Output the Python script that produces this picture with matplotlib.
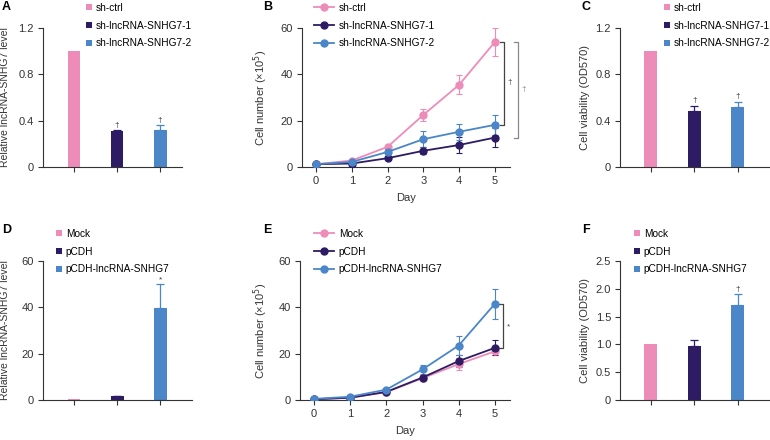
import matplotlib
matplotlib.use("Agg")
import matplotlib.pyplot as plt
import numpy as np

plt.rcParams['font.family'] = ['Liberation Sans', 'DejaVu Sans']
plt.rcParams['font.size'] = 8

PINK = '#ee8cb9'
NAVY = '#2d1b63'
BLUE = '#4a86c8'
AX_C = '#333333'

W, H = 770, 440

# ---- data ----
days = [0, 1, 2, 3, 4, 5]

sh_groups = ['sh-ctrl', 'sh-lncRNA-SNHG7-1', 'sh-lncRNA-SNHG7-2']
oe_groups = ['Mock', 'pCDH', 'pCDH-lncRNA-SNHG7']

a_vals = [1.0, 0.31, 0.32]
a_err = [0.0, 0.012, 0.04]

b_ctrl = [1.2, 2.8, 8.7, 22.5, 35.5, 54.0]
b_ctrl_err = [0.3, 0.6, 1.0, 2.6, 4.0, 6.0]
b_sh1 = [1.2, 1.5, 3.8, 7.0, 9.5, 12.7]
b_sh1_err = [0.3, 0.3, 0.7, 1.5, 3.5, 4.0]
b_sh2 = [1.2, 2.2, 6.5, 12.0, 15.2, 18.2]
b_sh2_err = [0.3, 0.4, 2.5, 3.5, 3.5, 4.2]

c_vals = [1.0, 0.48, 0.52]
c_err = [0.0, 0.05, 0.045]

d_vals = [0.6, 1.6, 39.5]
d_err = [0.0, 0.2, 10.5]

e_mock = [0.3, 1.0, 3.4, 9.4, 15.5, 21.0]
e_mock_err = [0.2, 0.3, 0.5, 1.0, 2.5, 1.6]
e_pcdh = [0.3, 1.0, 3.5, 9.7, 16.8, 22.5]
e_pcdh_err = [0.2, 0.3, 0.5, 1.0, 2.7, 3.2]
e_over = [0.5, 1.4, 4.5, 13.2, 23.5, 41.5]
e_over_err = [0.2, 0.3, 0.5, 2.0, 4.0, 6.5]

f_vals = [1.0, 0.98, 1.71]
f_err = [0.0, 0.1, 0.2]

colors = [PINK, NAVY, BLUE]


def px_axes(x0, x1, y0, y1):
    return fig.add_axes([x0 / W, 1 - y1 / H, (x1 - x0) / W, (y1 - y0) / H])


def style(ax):
    for s in ['top', 'right']:
        ax.spines[s].set_visible(False)
    for s in ['left', 'bottom']:
        ax.spines[s].set_color(AX_C)
        ax.spines[s].set_linewidth(0.8)
    ax.tick_params(colors=AX_C, length=3.5, width=0.8, labelsize=8, pad=3)


def ylabel(ax, text, xpx, size=8):
    ax.set_ylabel(text, fontsize=size, color=AX_C)
    bb = ax.get_position()
    ax.yaxis.set_label_coords(xpx / W, bb.y0 + bb.height / 2, transform=fig.transFigure)


def legend(ax, handles, labels, xpx, ypx, square=True):
    if square:
        kw = dict(handlelength=0.55, handleheight=0.55, handletextpad=0.4)
    else:
        kw = dict(handlelength=2.0, handletextpad=0.45)
    ax.legend(handles, labels, loc='upper left', frameon=False,
              bbox_to_anchor=(xpx / W, 1 - ypx / H), bbox_transform=fig.transFigure,
              borderpad=0, borderaxespad=0, labelspacing=0.75, fontsize=7.3, **kw)


def letter(txt, xpx, ypx):
    fig.text(xpx / W, 1 - ypx / H, txt, fontsize=9, fontweight='bold', va='center', ha='left')


def bar_panel(ax, vals, errs, ymax, yticks, yticklabels, xlim, marks, mark_off):
    x = np.arange(len(vals))
    bars = []
    for i in range(len(vals)):
        if errs[i] > 0:
            ax.errorbar(x[i], vals[i], yerr=[[0], [errs[i]]], fmt='none', ecolor=colors[i],
                        elinewidth=0.9, capsize=3, capthick=0.9, zorder=1)
        b = ax.bar(x[i], vals[i], width=0.3, color=colors[i], zorder=2)
        bars.append(b[0])
    for i, m in marks:
        ax.text(x[i], vals[i] + errs[i] + mark_off, m, ha='center', va='bottom', fontsize=6, color=AX_C)
    ax.set_xlim(*xlim)
    ax.set_ylim(0, ymax)
    ax.set_yticks(yticks)
    ax.set_yticklabels(yticklabels)
    ax.set_xticks(x)
    ax.set_xticklabels([])
    style(ax)
    return bars


def line_panel(ax, series, ymax):
    handles = []
    for (vals, errs), c in zip(series, colors):
        ax.errorbar(days, vals, yerr=errs, color=c, ecolor=c, elinewidth=0.8, capsize=2.5,
                    capthick=0.8, lw=1.3, marker='o', ms=5, zorder=3)
        h, = ax.plot([], [], color=c, lw=1.3, marker='o', ms=5)
        handles.append(h)
    ax.set_xlim(-0.39, 5.42)
    ax.set_ylim(0, ymax)
    ax.set_yticks([0, 20, 40, 60])
    ax.set_xticks(days)
    ax.set_xlabel('Day', fontsize=8, color=AX_C, labelpad=5)
    style(ax)
    return handles


def bracket(ax, x, y0, y1, color, text, tx, ty, dx=0.1):
    ax.plot([x - dx, x, x, x - dx], [y0, y0, y1, y1], color=color, lw=0.9, clip_on=False)
    ax.text(tx, ty, text, fontsize=6, color=color, ha='center', va='center', clip_on=False)


fig = plt.figure(figsize=(W / 100, H / 100), dpi=100)

# ---- A ----
axA = px_axes(43, 182, 28, 167)
hA = bar_panel(axA, a_vals, a_err, 1.2, [0, 0.4, 0.8, 1.2], ['0', '0.4', '0.8', '1.2'],
               (-0.72, 2.51), [(1, '†'), (2, '†')], 0.01)
ylabel(axA, 'Relative lncRNA-SNHG7 level', 10, size=7.5)
legend(axA, hA, sh_groups, 86, 3)
letter('A', 2, 7)

# ---- B ----
axB = px_axes(302, 510, 28, 167)
hB = line_panel(axB, [(b_ctrl, b_ctrl_err), (b_sh1, b_sh1_err), (b_sh2, b_sh2_err)], 60)
ylabel(axB, 'Cell number (×10$^5$)', 270)
legend(axB, hB, sh_groups, 314, 3, square=False)
bracket(axB, 5.25, b_ctrl[5], b_sh2[5], '#444444', '†', 5.40, 36.5)
bracket(axB, 5.64, b_ctrl[5], b_sh1[5], '#888888', '†', 5.80, 33.5)
letter('B', 263, 7)

# ---- C ----
axC = px_axes(620, 769, 28, 167)
hC = bar_panel(axC, c_vals, c_err, 1.2, [0, 0.4, 0.8, 1.2], ['0', '0.4', '0.8', '1.2'],
               (-0.71, 2.72), [(1, '†'), (2, '†')], 0.01)
ylabel(axC, 'Cell viability (OD570)', 590)
legend(axC, hC, sh_groups, 664, 3)
letter('C', 582, 7)

# ---- D ----
axD = px_axes(43, 192, 261, 400)
hD = bar_panel(axD, d_vals, d_err, 60, [0, 20, 40, 60], ['0', '20', '40', '60'],
               (-0.72, 2.74), [(2, '*')], 0.3)
ylabel(axD, 'Relative lncRNA-SNHG7 level', 10, size=7.5)
legend(axD, hD, oe_groups, 56, 229)
letter('D', 2, 230)

# ---- E ----
axE = px_axes(300, 510, 261, 400)
hE = line_panel(axE, [(e_mock, e_mock_err), (e_pcdh, e_pcdh_err), (e_over, e_over_err)], 60)
ylabel(axE, 'Cell number (×10$^5$)', 270)
legend(axE, hE, oe_groups, 314, 229, square=False)
bracket(axE, 5.22, e_over[5], e_pcdh[5], '#444444', '*', 5.38, 31.5)
letter('E', 263, 230)

# ---- F ----
axF = px_axes(620, 769, 261, 400)
hF = bar_panel(axF, f_vals, f_err, 2.5, [0, 0.5, 1.0, 1.5, 2.0, 2.5],
               ['0', '0.5', '1.0', '1.5', '2.0', '2.5'],
               (-0.71, 2.72), [(2, '†')], 0.02)
ylabel(axF, 'Cell viability (OD570)', 590)
legend(axF, hF, oe_groups, 634, 229)
letter('F', 582, 230)

fig.savefig('out.png', dpi=100)
